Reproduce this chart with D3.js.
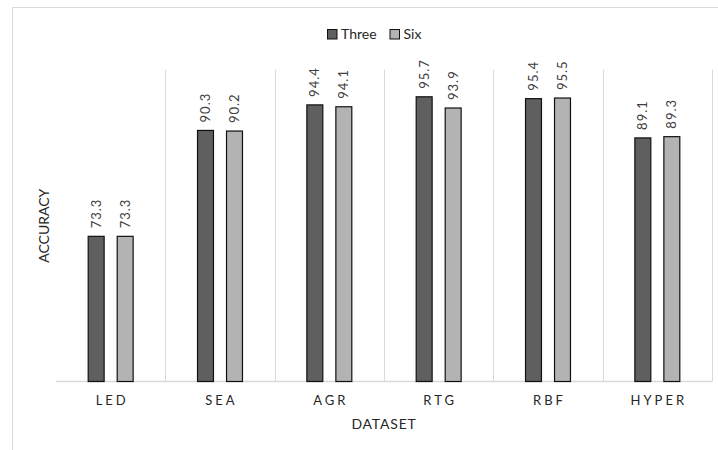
<!DOCTYPE html>
<html><head><meta charset="utf-8">
<script src="https://cdn.jsdelivr.net/npm/d3@7"></script>
<style>body{margin:0;background:#fff}svg{display:block}text{font-family:Lato,"Open Sans",sans-serif}</style>
</head><body>
<svg id="c" width="718" height="450"></svg>
<script>
const categories = ["LED","SEA","AGR","RTG","RBF","HYPER"];
const seriesNames = ["Three","Six"];
const three = [73.3,90.3,94.4,95.7,95.4,89.1];
const six = [73.3,90.2,94.1,93.9,95.5,89.3];
const yDomain = [50,100];
const colors = {Three:"#5f5f5f", Six:"#b3b3b3"};

(function(){
const svg = d3.select("#c");
const pLeft=56, pRight=712, pTop=70, pBottom=381.5;
svg.append("rect").attr("x",12.5).attr("y",7.5).attr("width",760).attr("height",500)
  .attr("fill","none").attr("stroke","#d9d9d9");

const x0 = d3.scaleBand().domain(categories).range([pLeft,pRight]);
const x1 = d3.scaleBand().domain(seriesNames).range([0,x0.bandwidth()]).paddingInner(0.45).paddingOuter(1.11);
const y = d3.scaleLinear().domain(yDomain).range([pBottom,pTop]);

const g = svg.append("g");
const bounds = categories.map(c=>x0(c)).concat([pRight]).slice(1);
g.selectAll("line.grid").data(bounds).enter().append("line")
  .attr("x1",d=>Math.round(d)+0.5).attr("x2",d=>Math.round(d)+0.5)
  .attr("y1",pTop).attr("y2",pBottom).attr("stroke","#d9d9d9").attr("stroke-width",1);
g.append("line").attr("x1",pLeft).attr("x2",pRight).attr("y1",pBottom).attr("y2",pBottom)
  .attr("stroke","#d9d9d9").attr("stroke-width",1.5);

const data = [];
categories.forEach((c,i)=>{
  data.push({c, s:"Three", v:three[i]});
  data.push({c, s:"Six", v:six[i]});
});

svg.selectAll("rect.bar").data(data).enter().append("rect")
  .attr("x",d=>x0(d.c)+x1(d.s)).attr("width",x1.bandwidth())
  .attr("y",d=>y(d.v)).attr("height",d=>pBottom-y(d.v))
  .attr("fill",d=>colors[d.s]).attr("stroke","#111").attr("stroke-width",1.2);

svg.selectAll("text.lbl").data(data).enter().append("text")
  .attr("transform",d=>`translate(${x0(d.c)+x1(d.s)+x1.bandwidth()/2+4.5},${y(d.v)-8}) rotate(-90)`)
  .attr("font-size",13).attr("letter-spacing","1px").attr("fill","#404040").text(d=>d.v.toFixed(1));

svg.selectAll("text.cat").data(categories).enter().append("text")
  .attr("x",d=>x0(d)+x0.bandwidth()/2+1.5).attr("y",405).attr("text-anchor","middle")
  .attr("font-size",13).attr("letter-spacing","3px").attr("fill","#262626").text(d=>d);

svg.append("text").attr("x",(pLeft+pRight)/2).attr("y",429).attr("text-anchor","middle")
  .attr("font-size",14).attr("letter-spacing","0.8px").attr("fill","#262626").text("DATASET");
svg.append("text").attr("transform",`translate(49,${(pTop+pBottom)/2}) rotate(-90)`)
  .attr("text-anchor","middle").attr("font-size",14).attr("fill","#262626").text("ACCURACY");

const leg = svg.append("g");
const items = [{n:"Three",x:327},{n:"Six",x:389.5}];
items.forEach(it=>{
  leg.append("rect").attr("x",it.x+0.5).attr("y",29.5).attr("width",9.5).attr("height",9.5)
    .attr("fill",colors[it.n]).attr("stroke","#111");
  leg.append("text").attr("x",it.x+14).attr("y",39.3).attr("font-size",14).attr("fill","#262626").text(it.n);
});
})();
</script>
</body></html>
